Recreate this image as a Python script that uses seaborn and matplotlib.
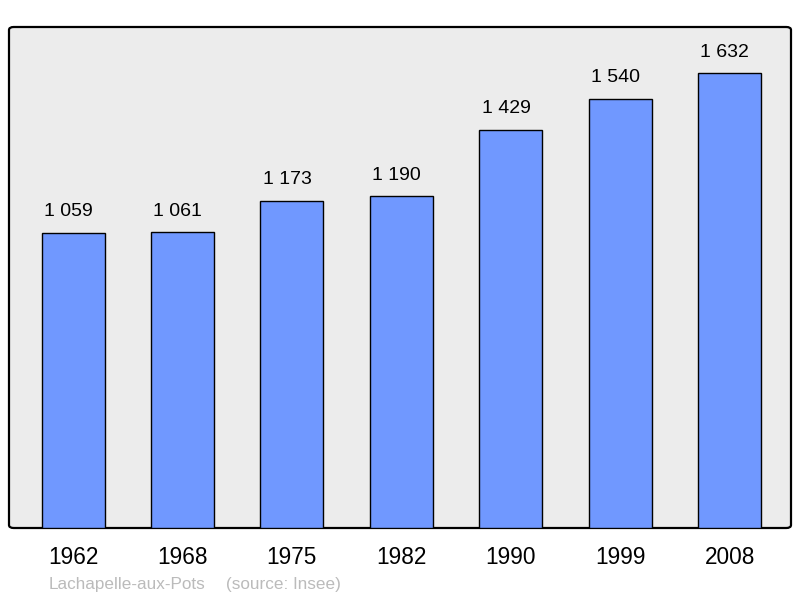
import matplotlib
matplotlib.use("Agg")
import matplotlib.pyplot as plt
import seaborn as sns
import pandas as pd
from matplotlib.patches import FancyBboxPatch

# données
annees = ["1962", "1968", "1975", "1982", "1990", "1999", "2008"]
population = [1059, 1061, 1173, 1190, 1429, 1540, 1632]
etiquettes = ["1 059", "1 061", "1 173", "1 190", "1 429", "1 540", "1 632"]

df = pd.DataFrame({"annee": annees, "pop": population})

sns.set_style("white")
plt.rcParams["font.family"] = ["Liberation Sans", "DejaVu Sans"]

fig = plt.figure(figsize=(8, 5.98), dpi=100)
ax = fig.add_axes([9 / 800, 1 - 528 / 598, 782 / 800, 501 / 598])
ax.set_facecolor("none")

# fond gris arrondi
cadre = FancyBboxPatch((0, 0), 1, 1, boxstyle="round,pad=0,rounding_size=0.006",
                       transform=ax.transAxes, facecolor="#ececec",
                       edgecolor="black", linewidth=1.6, zorder=0, clip_on=False)
ax.add_patch(cadre)

sns.barplot(data=df, x="annee", y="pop", color="#7098ff", saturation=1,
            width=0.576, edgecolor="black", linewidth=1.0, ax=ax, zorder=2)

for i, (v, t) in enumerate(zip(population, etiquettes)):
    ax.annotate(t, (i, v), xytext=(-3.5, 9), textcoords="offset points",
                ha="center", va="bottom", fontsize=14, color="black")

ax.set_xlim(-0.585, 6.56)
ax.set_ylim(0, 1797)
ax.set_xlabel("")
ax.set_ylabel("")
ax.set_yticks([])
ax.tick_params(axis="x", length=0, pad=13.3, labelsize=16.3, colors="black")
for s in ax.spines.values():
    s.set_visible(False)

fig.text(49 / 800, 1 - 584 / 598, "Lachapelle-aux-Pots", fontsize=12.3,
         color="#bbbbbb", ha="left", va="center")
fig.text(226 / 800, 1 - 584 / 598, "(source: Insee)", fontsize=12.3,
         color="#bbbbbb", ha="left", va="center")

fig.savefig("out.png", dpi=100, facecolor="white")
